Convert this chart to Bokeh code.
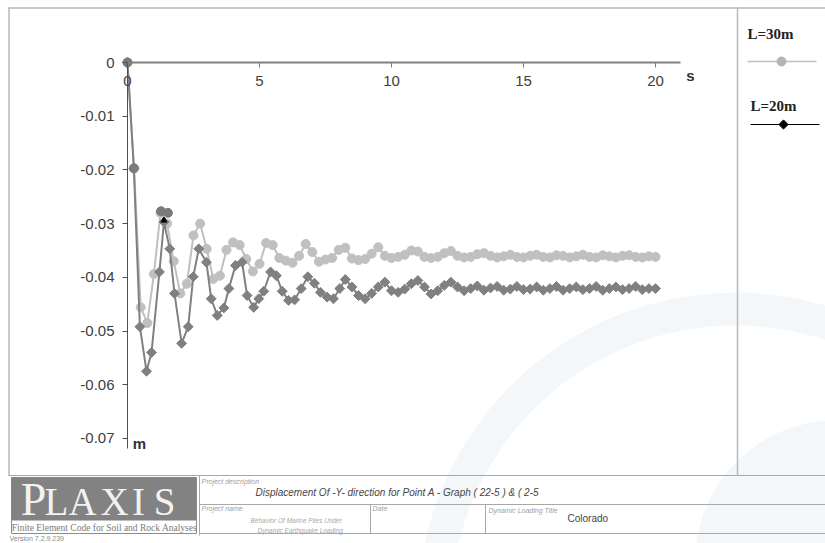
from bokeh.plotting import figure
from bokeh.models import Range1d, LinearAxis, FixedTicker, Label
from bokeh.core.properties import value
from bokeh.embed import file_html
from bokeh.resources import INLINE

# ---------------- data ----------------
series_names = ["L=30m", "L=20m"]

time_30 = [0.00, 0.25, 0.50, 0.75, 1.00, 1.25, 1.50, 1.75, 2.00, 2.25,
           2.50, 2.75, 3.00, 3.25, 3.50, 3.75, 4.00, 4.25, 4.50, 4.75,
           5.00, 5.25, 5.50, 5.75, 6.00, 6.25, 6.50, 6.75, 7.00, 7.25,
           7.50, 7.75, 8.00, 8.25, 8.50, 8.75, 9.00, 9.25, 9.50, 9.75,
           10.00, 10.25, 10.50, 10.75, 11.00, 11.25, 11.50, 11.75, 12.00, 12.25,
           12.50, 12.75, 13.00, 13.25, 13.50, 13.75, 14.00, 14.25, 14.50, 14.75,
           15.00, 15.25, 15.50, 15.75, 16.00, 16.25, 16.50, 16.75, 17.00, 17.25,
           17.50, 17.75, 18.00, 18.25, 18.50, 18.75, 19.00, 19.25, 19.50, 19.75,
           20.00]
disp_30 = [0.0, -0.0197, -0.0456, -0.0485, -0.0394, -0.0280, -0.0300, -0.0370, -0.0430, -0.0412,
           -0.0322, -0.0300, -0.0347, -0.0403, -0.0397, -0.0349, -0.0335, -0.0340, -0.0366, -0.0389,
           -0.0375, -0.0336, -0.0340, -0.0364, -0.0369, -0.0373, -0.0360, -0.0338, -0.0353, -0.0371,
           -0.0367, -0.0364, -0.0349, -0.0345, -0.0365, -0.0368, -0.0366, -0.0356, -0.0344, -0.0360,
           -0.0364, -0.0362, -0.0358, -0.0350, -0.0352, -0.0362, -0.0364, -0.0362, -0.0355, -0.0351,
           -0.0360, -0.0363, -0.0362, -0.0357, -0.0355, -0.0360, -0.0363, -0.0361, -0.0358, -0.0362,
           -0.0363, -0.0360, -0.0358, -0.0362, -0.0363, -0.0359, -0.0360, -0.0363, -0.0361, -0.0358,
           -0.0362, -0.0363, -0.0359, -0.0361, -0.0363, -0.0360, -0.0359, -0.0362, -0.0363, -0.0361,
           -0.0362]

time_20 = [0.00, 0.24, 0.47, 0.72, 0.91, 1.21, 1.38, 1.60, 1.78, 2.05,
           2.30, 2.49, 2.70, 2.99, 3.17, 3.40, 3.65, 3.84, 4.09, 4.34,
           4.53, 4.78, 4.97, 5.16, 5.42, 5.64, 5.86, 6.10, 6.33, 6.58,
           6.83, 7.08, 7.31, 7.56, 7.80, 8.04, 8.25, 8.50, 8.75, 9.00,
           9.25, 9.50, 9.75, 10.00, 10.25, 10.50, 10.75, 11.00, 11.25, 11.50,
           11.75, 12.00, 12.25, 12.50, 12.75, 13.00, 13.25, 13.50, 13.75, 14.00,
           14.25, 14.50, 14.75, 15.00, 15.25, 15.50, 15.75, 16.00, 16.25, 16.50,
           16.75, 17.00, 17.25, 17.50, 17.75, 18.00, 18.25, 18.50, 18.75, 19.00,
           19.25, 19.50, 19.75, 20.00]
disp_20 = [0.0, -0.0197, -0.0492, -0.0575, -0.0540, -0.0390, -0.0297, -0.0347, -0.0430, -0.0523,
           -0.0492, -0.0399, -0.0347, -0.0372, -0.0440, -0.0471, -0.0457, -0.0421, -0.0378, -0.0372,
           -0.0434, -0.0456, -0.0440, -0.0426, -0.0390, -0.0397, -0.0426, -0.0443, -0.0442, -0.0421,
           -0.0399, -0.0411, -0.0428, -0.0437, -0.0440, -0.0421, -0.0404, -0.0418, -0.0434, -0.0440,
           -0.0430, -0.0418, -0.0409, -0.0425, -0.0428, -0.0422, -0.0412, -0.0406, -0.0418, -0.0431,
           -0.0425, -0.0415, -0.0409, -0.0418, -0.0425, -0.0421, -0.0416, -0.0424, -0.0420, -0.0417,
           -0.0424, -0.0422, -0.0417, -0.0423, -0.0422, -0.0418, -0.0424, -0.0421, -0.0417, -0.0424,
           -0.0421, -0.0418, -0.0423, -0.0421, -0.0417, -0.0424, -0.0421, -0.0418, -0.0423, -0.0421,
           -0.0417, -0.0423, -0.0421, -0.0421]

# highlighted (selected) points drawn darker in the original
mark_time = [0.00, 0.24, 1.27, 1.53]
mark_disp = [0.0, -0.0197, -0.0277, -0.0280]
peak_time = [1.38]
peak_disp = [-0.0294]

x_ticks = [0, 5, 10, 15, 20]
y_ticks = [0, -0.01, -0.02, -0.03, -0.04, -0.05, -0.06, -0.07]
y_tick_labels = ["0", "-0.01", "-0.02", "-0.03", "-0.04", "-0.05", "-0.06", "-0.07"]
x_unit, y_unit = "s", "m"

# ---------------- layout (page pixels) ----------------
W, H = 825, 543
OFF = 0
X0_PX, X_PER = 127.0, 26.4      # page x of t=0, px per second
Y0_PX, Y_PER = 62.0, 5370.0     # page y of 0 m, px per metre


def dx(px):
    return (px - X0_PX) / X_PER


def dy(py):
    return -(py - Y0_PX) / Y_PER


p = figure(width=W, height=H,
           x_range=Range1d(dx(OFF), dx(OFF + W)),
           y_range=Range1d(dy(OFF + H), dy(OFF)),
           x_axis_type=None, y_axis_type=None,
           toolbar_location=None, output_backend="svg",
           min_border=0, outline_line_color=None,
           background_fill_color="white", border_fill_color="white")

SANS = value("Liberation Sans")
SERIF = value("Liberation Serif")

# faint watermark
p.annulus(x=[dx(735)], y=[dy(610)], inner_radius=[285], outer_radius=[318],
          inner_radius_units="screen", outer_radius_units="screen",
          fill_color="#dbe5ef", fill_alpha=0.3, line_color=None)
p.wedge(x=[dx(835)], y=[dy(560)], radius=[140], radius_units="screen",
        start_angle=1.57, end_angle=3.3,
        fill_color="#dbe5ef", fill_alpha=0.3, line_color=None)

# frame lines
LC = "#b8b8b8"
p.segment(x0=[dx(8), dx(8.5), dx(737)],
          y0=[dy(7.5), dy(7), dy(7)],
          x1=[dx(W), dx(8.5), dx(737)],
          y1=[dy(7.5), dy(475), dy(475)],
          line_color=LC, line_width=1.5)

# ---- info block ----
TL = "#a8a8a8"
p.segment(x0=[dx(8), dx(199), dx(199), dx(199), dx(370), dx(485)],
          y0=[dy(475), dy(504), dy(533), dy(475), dy(504), dy(504)],
          x1=[dx(W), dx(W), dx(W), dx(199), dx(370), dx(485)],
          y1=[dy(475), dy(504), dy(533), dy(535), dy(533), dy(533)],
          line_color=TL, line_width=1)

# logo
p.quad(left=[dx(11)], right=[dx(196)], top=[dy(477)], bottom=[dy(533)],
       fill_color="white", line_color="#8c8c8c", line_width=1)
p.quad(left=[dx(11)], right=[dx(196)], top=[dy(477)], bottom=[dy(520)],
       fill_color="#828282", line_color=None)
p.text(x=[dx(33)], y=[dy(499)], text=["P"], text_font=SERIF, text_font_size="46px",
       text_color="#f2f2f2", text_align="center", text_baseline="middle")
p.text(x=[dx(56), dx(82), dx(114), dx(138), dx(164)], y=[dy(501)] * 5,
       text=["L", "A", "X", "I", "S"], text_font=SERIF, text_font_size="39px",
       text_color="#f2f2f2", text_align="center", text_baseline="middle")
p.text(x=[dx(104)], y=[dy(527)], text=["Finite Element Code for Soil and Rock Analyses"],
       text_font=SERIF, text_font_size="9.5px", text_color="#7a7a7a",
       text_align="center", text_baseline="middle")
p.text(x=[dx(9)], y=[dy(538)], text=["Version 7.2.9.239"], text_font=SANS,
       text_font_size="7px", text_color="#8a8a8a", text_baseline="middle")

small = dict(text_font=SANS, text_font_size="7px", text_font_style="italic",
             text_color="#a0a0a0", text_baseline="middle")
p.text(x=[dx(201), dx(201), dx(372), dx(488)], y=[dy(481), dy(508), dy(508), dy(510)],
       text=["Project description", "Project name", "Date", "Dynamic Loading Title"], **small)
p.text(x=[dx(250), dx(257)], y=[dy(520), dy(530)],
       text=["Behavior Of  Marine Piles Under", "Dynamic Earthquake Loading"],
       text_font=SANS, text_font_size="6.5px", text_font_style="italic",
       text_color="#a8a8a8", text_baseline="middle")
p.text(x=[dx(255)], y=[dy(492)],
       text=["Displacement Of -Y- direction for Point A - Graph ( 22-5 ) & ( 2-5"],
       text_font=SANS, text_font_size="10px", text_font_style="italic",
       text_color="#454545", text_baseline="middle")
p.text(x=[dx(567)], y=[dy(518)], text=["Colorado"], text_font=SANS,
       text_font_size="10px", text_color="#454545", text_baseline="middle")

# ---- legend (right panel) ----
p.text(x=[dx(747), dx(750)], y=[dy(33), dy(105)], text=series_names,
       text_font=SERIF, text_font_size="15px", text_font_style="bold",
       text_color="#222222", text_baseline="middle")
p.segment(x0=[dx(747)], y0=[dy(61)], x1=[dx(816)], y1=[dy(61)],
          line_color="#c0c0c0", line_width=1.5)
p.scatter(x=[dx(781)], y=[dy(61)], marker="circle", size=9,
          fill_color="#b4b4b4", line_color="#b4b4b4")
p.segment(x0=[dx(750)], y0=[dy(124)], x1=[dx(819)], y1=[dy(124)],
          line_color="black", line_width=1.2)
p.scatter(x=[dx(783)], y=[dy(124)], marker="square", angle=0.785398, size=6.5,
          fill_color="black", line_color="black")

# ---- data series ----
p.line(time_30, disp_30, line_color="#c0c0c0", line_width=2)
p.scatter(time_30, disp_30, marker="circle", size=9,
          fill_color="#c0c0c0", line_color="#c0c0c0")
p.line(time_20, disp_20, line_color="#808080", line_width=2)
p.scatter(time_20, disp_20, marker="square", angle=0.785398, size=7,
          fill_color="#808080", line_color="#808080")
p.scatter(mark_time, mark_disp, marker="circle", size=9,
          fill_color="#7a7a7a", line_color="#7a7a7a")
p.scatter(peak_time, peak_disp, marker="triangle", size=6,
          fill_color="black", line_color="black")

# ---- axes crossing at the origin ----
xaxis = LinearAxis(fixed_location=0, ticker=FixedTicker(ticks=x_ticks), bounds=(0, 20.95))
xaxis.axis_line_color = "#808080"
xaxis.axis_line_width = 2
xaxis.major_tick_in = 0
xaxis.major_tick_out = 5
xaxis.major_tick_line_color = "#808080"
xaxis.minor_tick_line_color = None
xaxis.major_label_text_font = "Liberation Sans"
xaxis.major_label_text_font_size = "15px"
xaxis.major_label_text_color = "#404040"
xaxis.major_label_standoff = 8
p.add_layout(xaxis, "below")

yaxis = LinearAxis(fixed_location=0, ticker=FixedTicker(ticks=y_ticks), bounds=(-0.0718, 0))
yaxis.major_label_overrides = {t: lab for t, lab in zip(y_ticks, y_tick_labels)}
yaxis.axis_line_color = "#505050"
yaxis.axis_line_width = 1
yaxis.major_tick_in = 0
yaxis.major_tick_out = 5
yaxis.major_tick_line_color = "#505050"
yaxis.minor_tick_line_color = None
yaxis.major_label_text_font = "Liberation Sans"
yaxis.major_label_text_font_size = "15px"
yaxis.major_label_text_color = "#404040"
yaxis.major_label_standoff = 8
p.add_layout(yaxis, "left")

p.add_layout(Label(x=dx(690), y=dy(75), text=x_unit, text_font="Liberation Sans",
                   text_font_size="15px", text_font_style="bold", text_color="#303030",
                   text_align="center", text_baseline="middle"))
p.add_layout(Label(x=dx(139), y=dy(443), text=y_unit, text_font="Liberation Sans",
                   text_font_size="15px", text_font_style="bold", text_color="#303030",
                   text_align="center", text_baseline="middle"))

open("out.html", "w").write(file_html(p, INLINE))
